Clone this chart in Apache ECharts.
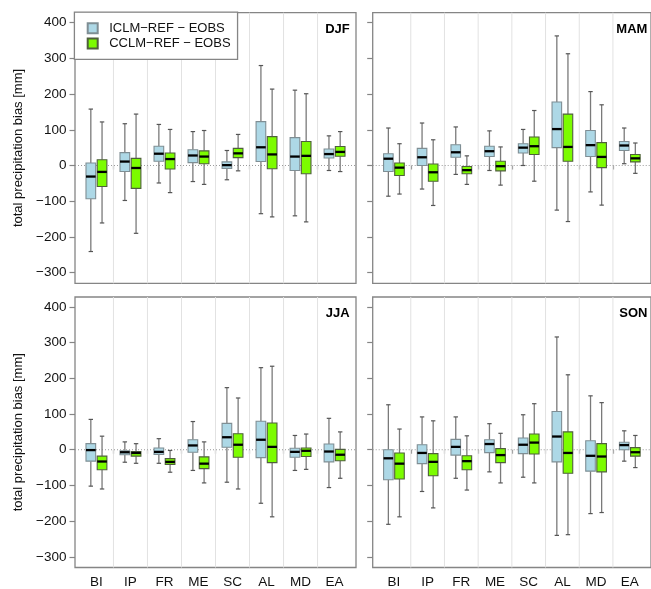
<!DOCTYPE html>
<html>
<head>
<meta charset="utf-8">
<script src="https://cdn.jsdelivr.net/npm/echarts@6/dist/echarts.min.js"></script>
<style>
  html, body { margin: 0; padding: 0; background: #fff; }
  #chart { width: 651px; height: 589px; }
</style>
</head>
<body>
<div id="chart"></div>
<script>
// Regions along the x axis and the two model differences shown per region
const regions = ['BI', 'IP', 'FR', 'ME', 'SC', 'AL', 'MD', 'EA'];
const seasons = ['DJF', 'MAM', 'JJA', 'SON'];
const modelNames = ['ICLM\u2212REF \u2212 EOBS', 'CCLM\u2212REF \u2212 EOBS'];
const yTicks = [-300, -200, -100, 0, 100, 200, 300, 400];
const regionBoundaries = [1.5, 2.5, 3.5, 4.5, 5.5, 6.5, 7.5];

// Box summaries per region: [lower whisker, Q1, median, Q3, upper whisker] (mm)
const djfIclm = [
  [-241, -93, -31, 7, 158], [-98, -17, 11, 36, 117], [-49, 12, 33, 54, 115], [-45, 8, 28, 44, 95],
  [-40, -8, 1, 10, 42], [-135, 11, 51, 123, 280], [-141, -14, 25, 78, 211], [-14, 21, 32, 46, 83]
];
const djfCclm = [
  [-161, -59, -18, 16, 122], [-190, -64, -7, 20, 144], [-76, -10, 18, 35, 101], [-53, 5, 25, 41, 98],
  [-15, 22, 34, 48, 87], [-144, -9, 31, 81, 214], [-158, -23, 27, 67, 201], [-17, 26, 38, 53, 95]
];
const mamIclm = [
  [-86, -17, 19, 33, 105], [-66, 0, 23, 48, 119], [-25, 23, 37, 58, 108], [-14, 25, 40, 54, 97],
  [0, 35, 50, 61, 101], [-125, 50, 102, 178, 363], [-74, 25, 57, 98, 207], [5, 42, 56, 67, 105]
];
const mamCclm = [
  [-80, -28, -6, 7, 61], [-112, -44, -19, 4, 72], [-53, -23, -13, -3, 27], [-55, -15, -2, 12, 52],
  [-44, 31, 54, 80, 154], [-157, 12, 52, 144, 313], [-111, -6, 24, 64, 170], [-22, 10, 20, 31, 63]
];
const jjaIclm = [
  [-102, -32, -1, 17, 85], [-35, -14, -7, -3, 22], [-38, -13, -6, 5, 31], [-58, -7, 12, 28, 79],
  [-91, 7, 35, 74, 174], [-150, -22, 28, 80, 230], [-58, -21, -6, 4, 40], [-106, -34, -5, 16, 88]
];
const jjaCclm = [
  [-110, -56, -33, -18, 38], [-38, -18, -9, -5, 17], [-63, -41, -34, -25, -2], [-93, -53, -39, -20, 22],
  [-110, -21, 14, 45, 145], [-188, -36, 8, 75, 234], [-55, -19, -3, 5, 44], [-80, -31, -14, 1, 50]
];
const sonIclm = [
  [-209, -84, -24, 0, 126], [-117, -39, -9, 14, 92], [-80, -15, 8, 29, 92], [-62, -8, 16, 28, 73],
  [-77, -11, 14, 33, 98], [-240, -34, 37, 107, 316], [-179, -60, -17, 25, 151], [-32, 0, 13, 21, 53]
];
const sonCclm = [
  [-188, -82, -39, -9, 58], [-163, -73, -34, -11, 81], [-113, -56, -32, -17, 39], [-93, -36, -15, 3, 46],
  [-93, -12, 20, 44, 129], [-238, -66, -9, 50, 210], [-176, -62, -19, 17, 132], [-50, -18, -7, 6, 40]
];

const panelData = [
  [djfIclm, djfCclm],
  [mamIclm, mamCclm],
  [jjaIclm, jjaCclm],
  [sonIclm, sonCclm]
];

// ---- layout & style ----
const FONT = '"Liberation Sans", Arial, Helvetica, sans-serif';
const X_MIN = 0.37, X_MAX = 8.63;
const Y_MIN = -330, Y_MAX = 428;
const BOX_SHIFT = 0.165;
const BOX_HALF = 0.142;
const CAP_HALF = 0.065;
const FILLS = ['#ADD8E6', '#7CFC00'];
const EDGES = ['#7f8e94', '#4f5f3c'];
const FRAME = '#858585';

const panels = [
  { left: 75, top: 12.7 },
  { left: 372.7, top: 12.7 },
  { left: 75, top: 297 },
  { left: 372.7, top: 297 }
];
const PANEL_W = 281, PANEL_H = 270.6;

const fmtMinus = v => (v < 0 ? '\u2212' + Math.abs(v) : String(v));

function boxRenderer(shift, fill, edge) {
  return function (params, api) {
    const x = api.value(0) + shift;
    const pt = v => api.coord([x, v]);
    const lo = pt(api.value(1)), q1 = pt(api.value(2)), md = pt(api.value(3));
    const q3 = pt(api.value(4)), hi = pt(api.value(5));
    const hw = api.size([BOX_HALF, 0])[0];
    const cw = api.size([CAP_HALF, 0])[0];
    const cx = lo[0];
    const whisk = { stroke: '#7a7a7a', lineWidth: 1.3 };
    const cap = { stroke: '#555', lineWidth: 1.2 };
    return {
      type: 'group',
      children: [
        { type: 'line', shape: { x1: cx, y1: q3[1], x2: cx, y2: hi[1] }, style: whisk },
        { type: 'line', shape: { x1: cx, y1: q1[1], x2: cx, y2: lo[1] }, style: whisk },
        { type: 'line', shape: { x1: cx - cw, y1: hi[1], x2: cx + cw, y2: hi[1] }, style: cap },
        { type: 'line', shape: { x1: cx - cw, y1: lo[1], x2: cx + cw, y2: lo[1] }, style: cap },
        { type: 'rect', shape: { x: cx - hw, y: q3[1], width: 2 * hw, height: q1[1] - q3[1] },
          style: { fill: fill, stroke: edge, lineWidth: 1.1 } },
        { type: 'line', shape: { x1: cx - hw, y1: md[1], x2: cx + hw, y2: md[1] },
          style: { stroke: '#000', lineWidth: 2.3 } }
      ]
    };
  };
}

function boundaryRenderer(params, api) {
  const a = api.coord([api.value(0), Y_MIN]);
  const b = api.coord([api.value(0), Y_MAX]);
  return { type: 'line', shape: { x1: a[0], y1: a[1], x2: b[0], y2: b[1] },
           style: { stroke: '#e2e2e2', lineWidth: 1 } };
}

function zeroRenderer(params, api) {
  const a = api.coord([X_MIN, api.value(0)]);
  const b = api.coord([X_MAX, api.value(0)]);
  return { type: 'line', shape: { x1: a[0], y1: a[1], x2: b[0], y2: b[1] },
           style: { stroke: '#9a9a9a', lineWidth: 1, lineDash: [1, 2] } };
}

const grid = [], xAxis = [], yAxis = [], series = [], graphic = [];

panels.forEach((p, g) => {
  const isLeft = g % 2 === 0;
  const isBottom = g >= 2;
  grid.push({
    left: p.left, top: p.top, width: PANEL_W, height: PANEL_H,
    show: true, borderColor: FRAME, borderWidth: 1.3, backgroundColor: 'transparent'
  });
  xAxis.push({
    type: 'value', gridIndex: g, min: X_MIN, max: X_MAX,
    axisLine: { show: false },
    splitLine: { show: false },
    axisTick: { show: true, customValues: regionBoundaries, length: 4, inside: false,
                lineStyle: { color: FRAME, width: 1.2 } },
    axisLabel: {
      show: isBottom, customValues: [1, 2, 3, 4, 5, 6, 7, 8],
      formatter: v => regions[Math.round(v) - 1] || '',
      fontFamily: FONT, fontSize: 13.5, color: '#111', margin: 7.5
    }
  });
  yAxis.push({
    type: 'value', gridIndex: g, min: Y_MIN, max: Y_MAX,
    axisLine: { show: false },
    splitLine: { show: false },
    axisTick: { show: true, customValues: yTicks, length: 5.5, inside: false,
                lineStyle: { color: FRAME, width: 1.2 } },
    axisLabel: {
      show: isLeft, customValues: yTicks, formatter: fmtMinus,
      fontFamily: FONT, fontSize: 13.5, color: '#111', margin: 8.5
    },
    name: isLeft ? 'total precipitation bias [mm]' : '',
    nameLocation: 'middle', nameGap: 50,
    nameTextStyle: { fontFamily: FONT, fontSize: 13, color: '#111' }
  });

  series.push({
    type: 'custom', name: 'boundaries-' + g, xAxisIndex: g, yAxisIndex: g,
    data: regionBoundaries.map(v => [v]), renderItem: boundaryRenderer, z: 1, silent: true
  });
  series.push({
    type: 'custom', name: 'zero-' + g, xAxisIndex: g, yAxisIndex: g,
    data: [[0]], renderItem: zeroRenderer, z: 1, silent: true
  });

  panelData[g].forEach((rows, m) => {
    series.push({
      type: 'custom', name: modelNames[m], xAxisIndex: g, yAxisIndex: g,
      itemStyle: { color: FILLS[m], borderColor: EDGES[m], borderWidth: 1 },
      encode: { x: 0, y: [1, 2, 3, 4, 5] },
      data: rows.map((r, i) => [i + 1].concat(r)),
      renderItem: boxRenderer(m === 0 ? -BOX_SHIFT : BOX_SHIFT, FILLS[m], EDGES[m]),
      z: 3
    });
  });

  graphic.push({
    type: 'text',
    x: p.left + PANEL_W - 6.3,
    y: p.top + 16.8,
    style: {
      text: seasons[g], align: 'right', verticalAlign: 'middle',
      font: 'bold 13px ' + FONT, fill: '#000'
    },
    z: 10
  });
});

const chart = echarts.init(document.getElementById('chart'), null, { renderer: 'canvas' });
chart.setOption({
  animation: false,
  backgroundColor: '#fff',
  grid, xAxis, yAxis, series, graphic,
  legend: {
    data: modelNames,
    orient: 'vertical',
    left: 74.4, top: 12.2,
    padding: [9.5, 7, 9.5, 12.3],
    itemWidth: 10, itemHeight: 10, itemGap: 2.2,
    icon: 'rect',
    selectedMode: false,
    borderColor: FRAME, borderWidth: 1.3,
    backgroundColor: '#fff',
    textStyle: { fontFamily: FONT, fontSize: 13, color: '#111', padding: [0, 0, 0, 6.5] },
    z: 5
  }
});
</script>
</body>
</html>
